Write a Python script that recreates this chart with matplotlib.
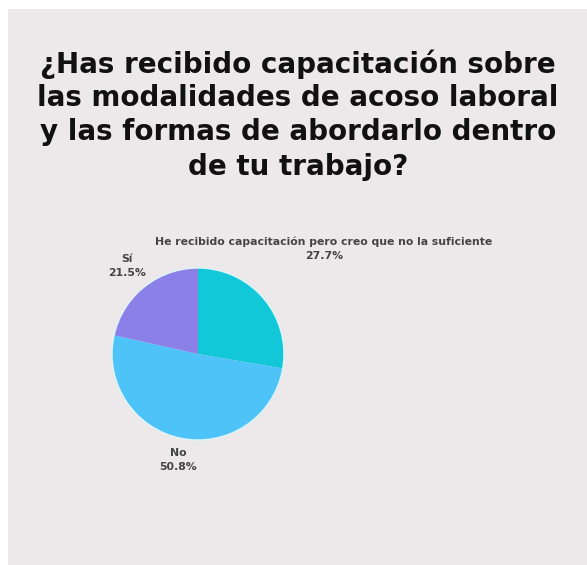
import matplotlib.pyplot as plt
import matplotlib.patches as patches

W, H = 587, 565

title_lines = ["¿Has recibido capacitación sobre",
               "las modalidades de acoso laboral",
               "y las formas de abordarlo dentro",
               "de tu trabajo?"]
labels = ["He recibido capacitación pero creo que no la suficiente", "No", "Sí"]
values = [27.7, 50.8, 21.5]
colors = ["#12C8D8", "#4EC3F8", "#8A80E8"]

fig = plt.figure(figsize=(W / 100, H / 100), dpi=100)
fig.patch.set_facecolor("white")

# one axes over the whole figure, in pixel units (y up)
ax = fig.add_axes([0, 0, 1, 1])

# light panel behind everything (white strip left and top)
ax.add_patch(patches.Rectangle((8, 0), W - 8, H - 9, facecolor="#EDE8E9",
                               edgecolor="none", zorder=0))

# title, one line at a time (baselines in px from top)
baselines = [73, 106, 140, 175]
for line, b in zip(title_lines, baselines):
    ax.text(298, H - b, line, ha="center", va="baseline", fontsize=20,
            fontweight="bold", family="DejaVu Sans", color="#111111")

cx, cy, r = 198, H - 354, 86
ax.pie(values, colors=colors, startangle=90, counterclock=False,
       center=(cx, cy), radius=r, frame=True,
       wedgeprops=dict(edgecolor="none", linewidth=0))
# thin light rim around the pie
ax.add_patch(patches.Circle((cx, cy), r, facecolor="none",
                            edgecolor="#DDF6FB", linewidth=1.0, zorder=3))
ax.set_xlim(0, W)
ax.set_ylim(0, H)
ax.set_aspect("equal")
ax.axis("off")

# label positions (pixels from top-left), same order as labels
label_pos = [(324, 249), (178, 460), (127, 266)]
for name, v, (x, y) in zip(labels, values, label_pos):
    ax.text(x, H - y, f"{name}\n{v}%", ha="center", va="center",
            fontsize=7.8, fontweight="bold", family="DejaVu Sans",
            color="#444444", linespacing=1.5)

fig.savefig("out.png", dpi=100)
